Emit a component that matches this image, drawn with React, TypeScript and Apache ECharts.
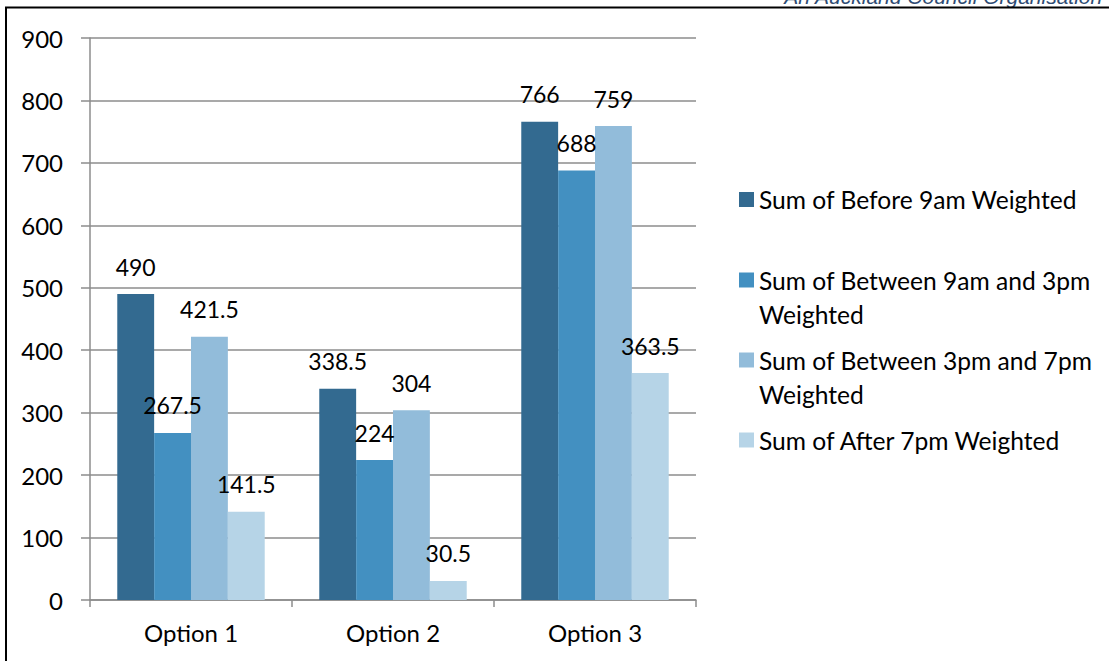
import React, { useEffect, useRef } from "react";
import * as echarts from "echarts";

const categories = ["Option 1", "Option 2", "Option 3"];
const seriesNames = [
  "Sum of Before 9am Weighted",
  "Sum of Between 9am and 3pm Weighted",
  "Sum of Between 3pm and 7pm Weighted",
  "Sum of After 7pm Weighted",
];
const legendFirstLines = [
  "Sum of Before 9am Weighted",
  "Sum of Between 9am and 3pm",
  "Sum of Between 3pm and 7pm",
  "Sum of After 7pm Weighted",
];
const legendSecondLines = ["", "Weighted", "Weighted", ""];
const before9 = [490, 338.5, 766];
const between9and3 = [267.5, 224, 688];
const between3and7 = [421.5, 304, 759];
const after7 = [141.5, 30.5, 363.5];
const yTicks = [0, 100, 200, 300, 400, 500, 600, 700, 800, 900];
const colors = ["#336A90", "#4390C1", "#92BCDA", "#B6D4E7"];

const FONT = "Lato";
const FS_LABEL = 23;
const FS_AXIS = 24;
const FS_LEGEND = 24.6;

export default function App() {
  const ref = useRef<HTMLDivElement>(null);
  useEffect(() => {
    if (!ref.current) return;
    const chart = echarts.init(ref.current, null, { renderer: "svg" });
    const values = [before9, between9and3, between3and7, after7];
    const iconCenters = [199.5, 280, 360, 440];
    const option: any = {
      animation: false,
      backgroundColor: "#ffffff",
      grid: { left: 90, right: 1109 - 696, top: 38, bottom: 661 - 600, containLabel: false },
      xAxis: {
        type: "category",
        data: categories,
        axisLine: { show: true, lineStyle: { color: "#8C8C8C", width: 1.5 } },
        axisTick: { show: true, alignWithLabel: false, length: 7, lineStyle: { color: "#8C8C8C", width: 1.5 } },
        axisLabel: { color: "#000", fontFamily: FONT, fontSize: FS_AXIS, margin: 20 },
        splitLine: { show: false },
      },
      yAxis: {
        type: "value",
        min: yTicks[0],
        max: yTicks[yTicks.length - 1],
        interval: 100,
        axisLine: { show: true, lineStyle: { color: "#8C8C8C", width: 1.5 } },
        axisTick: { show: true, length: 9, lineStyle: { color: "#8C8C8C", width: 1.5 } },
        axisLabel: { color: "#000", fontFamily: FONT, fontSize: FS_AXIS, margin: 27 },
        splitLine: { show: true, lineStyle: { color: "#8C8C8C", width: 1.5 } },
      },
      legend: seriesNames.map((name, i) => ({
        data: [name],
        left: 739,
        top: iconCenters[i] - 17,
        padding: 0,
        icon: "rect",
        itemWidth: 15,
        itemHeight: 15,
        selectedMode: false,
        formatter: () => legendFirstLines[i],
        textStyle: {
          color: "#000",
          fontFamily: FONT,
          fontSize: FS_LEGEND,
          lineHeight: 34,
        },
      })),
      series: seriesNames.map((name, i) => ({
        name,
        type: "bar",
        data: values[i],
        barGap: "0%",
        barCategoryGap: "27%",
        itemStyle: { color: colors[i] },
        label: {
          show: true,
          position: "top",
          distance: 16,
          color: "#000",
          fontFamily: FONT,
          fontSize: FS_LABEL,
        },
      })),
      graphic: [
        {
          type: "rect",
          shape: { x: 6, y: 7.5, width: 1200, height: 800 },
          style: { fill: "none", stroke: "#000", lineWidth: 2 },
          silent: true,
          z: 100,
        },
        {
          type: "text",
          right: 6,
          top: -14,
          style: {
            text: "An Auckland Council Organisation",
            fill: "#2E4B73",
            font: "italic 21px 'Liberation Sans', Arial, sans-serif",
          },
          silent: true,
        },
        ...legendSecondLines
          .map((t, i) => ({ t, i }))
          .filter((o) => o.t)
          .map((o) => ({
            type: "text",
            left: 759,
            top: iconCenters[o.i] + 34 - 17,
            style: {
              text: o.t,
              fill: "#000",
              fontFamily: FONT,
              fontSize: FS_LEGEND,
              lineHeight: 34,
            },
            silent: true,
          })),
      ],
    };
    chart.setOption(option);
    return () => chart.dispose();
  }, []);
  return (
    <div
      ref={ref}
      style={{ position: "absolute", left: 0, top: 0, width: 1109, height: 661 }}
    />
  );
}
